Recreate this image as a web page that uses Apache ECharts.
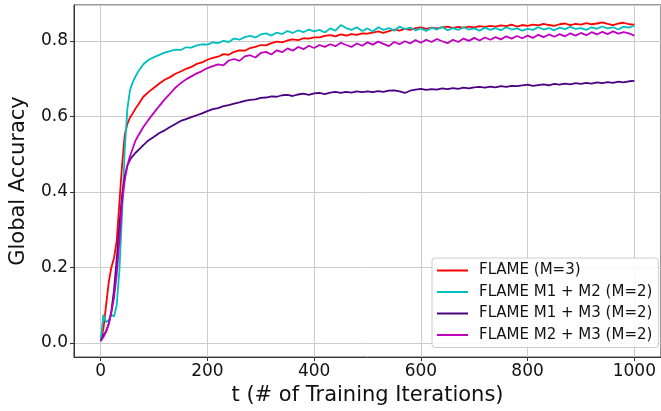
<!DOCTYPE html>
<html>
<head>
<meta charset="utf-8">
<script src="https://cdn.jsdelivr.net/npm/echarts@6/dist/echarts.min.js"></script>
<style>
  html, body { margin: 0; padding: 0; background: #fff; }
  #chart { width: 661px; height: 411px; }
</style>
</head>
<body>
<div id="chart"></div>
<script>
// training iterations (denser at the start where curves rise fast)
var iters = [0, 5, 10, 15, 20, 25, 30, 35, 40, 45, 50, 55, 60, 65, 70,
    80, 90, 100, 110, 120, 130, 140, 150, 160, 170, 180, 190, 200,
    210, 220, 230, 240, 250, 260, 270, 280, 290, 300,
    310, 320, 330, 340, 350, 360, 370, 380, 390, 400,
    410, 420, 430, 440, 450, 460, 470, 480, 490, 500,
    510, 520, 530, 540, 550, 560, 570, 580, 590, 600,
    610, 620, 630, 640, 650, 660, 670, 680, 690, 700,
    710, 720, 730, 740, 750, 760, 770, 780, 790, 800,
    810, 820, 830, 840, 850, 860, 870, 880, 890, 900,
    910, 920, 930, 940, 950, 960, 970, 980, 990, 1000];

var seriesNames = ['FLAME (M=3)', 'FLAME M1 + M2 (M=2)', 'FLAME M1 + M3 (M=2)', 'FLAME M2 + M3 (M=2)'];

var flameM3 = [0.005, 0.036, 0.098, 0.16, 0.20, 0.225, 0.27, 0.37, 0.47, 0.55, 0.58, 0.597, 0.608, 0.62, 0.63,
    0.652, 0.665, 0.676, 0.687, 0.697, 0.704, 0.713, 0.719, 0.726, 0.731, 0.739, 0.743, 0.750,
    0.755, 0.758, 0.765, 0.763, 0.771, 0.775, 0.774, 0.781, 0.784, 0.789,
    0.788, 0.794, 0.798, 0.796, 0.801, 0.804, 0.802, 0.807, 0.806, 0.809,
    0.809, 0.813, 0.815, 0.812, 0.817, 0.814, 0.818, 0.816, 0.820, 0.819,
    0.822, 0.825, 0.821, 0.826, 0.830, 0.827, 0.832, 0.829, 0.834, 0.836,
    0.832, 0.835, 0.833, 0.836, 0.838, 0.834, 0.837, 0.835, 0.838, 0.836,
    0.839, 0.837, 0.840, 0.838, 0.841, 0.839, 0.843, 0.838, 0.842, 0.840,
    0.843, 0.841, 0.845, 0.842, 0.840, 0.844, 0.846, 0.842, 0.845, 0.843,
    0.847, 0.844, 0.846, 0.849, 0.845, 0.842, 0.846, 0.848, 0.844, 0.843];

var flameM1M2 = [0.005, 0.075, 0.055, 0.06, 0.075, 0.07, 0.10, 0.19, 0.34, 0.51, 0.62, 0.67, 0.69, 0.705, 0.718,
    0.738, 0.750, 0.757, 0.763, 0.769, 0.773, 0.777, 0.776, 0.783, 0.782, 0.788, 0.791, 0.790,
    0.796, 0.794, 0.800, 0.797, 0.806, 0.803, 0.810, 0.813, 0.809, 0.817,
    0.820, 0.814, 0.822, 0.818, 0.826, 0.821, 0.828, 0.823, 0.830, 0.825,
    0.829, 0.822, 0.833, 0.827, 0.842, 0.834, 0.829, 0.836, 0.826, 0.833,
    0.825, 0.836, 0.829, 0.834, 0.827, 0.838, 0.831, 0.835, 0.828, 0.833,
    0.826, 0.835, 0.830, 0.837, 0.828, 0.834, 0.829, 0.836, 0.830, 0.833,
    0.827, 0.835, 0.829, 0.834, 0.828, 0.836, 0.830, 0.833, 0.827, 0.832,
    0.829, 0.836, 0.830, 0.834, 0.828, 0.835, 0.831, 0.837, 0.832, 0.834,
    0.829, 0.836, 0.832, 0.838, 0.833, 0.836, 0.830, 0.838, 0.835, 0.840];

var flameM1M3 = [0.005, 0.02, 0.03, 0.05, 0.085, 0.14, 0.22, 0.31, 0.39, 0.44, 0.47, 0.485, 0.495, 0.503, 0.51,
    0.524, 0.537, 0.546, 0.556, 0.563, 0.572, 0.580, 0.588, 0.593, 0.598, 0.603, 0.608, 0.614,
    0.619, 0.622, 0.627, 0.630, 0.634, 0.637, 0.641, 0.644, 0.645, 0.649,
    0.650, 0.653, 0.652, 0.656, 0.657, 0.654, 0.658, 0.660, 0.657, 0.661,
    0.662, 0.659, 0.663, 0.665, 0.662, 0.665, 0.663, 0.666, 0.664, 0.666,
    0.664, 0.667, 0.665, 0.668, 0.669, 0.666, 0.662, 0.668, 0.671, 0.673,
    0.670, 0.672, 0.671, 0.674, 0.672, 0.675, 0.673, 0.676, 0.674, 0.677,
    0.678, 0.676, 0.679, 0.677, 0.680, 0.678, 0.681, 0.680, 0.682, 0.684,
    0.681, 0.683, 0.685, 0.682, 0.686, 0.684, 0.687, 0.685, 0.688, 0.686,
    0.689, 0.687, 0.690, 0.688, 0.691, 0.689, 0.692, 0.690, 0.693, 0.694];

var flameM2M3 = [0.005, 0.015, 0.03, 0.05, 0.08, 0.12, 0.18, 0.27, 0.37, 0.43, 0.47, 0.495, 0.515, 0.535, 0.548,
    0.572, 0.592, 0.610, 0.628, 0.645, 0.660, 0.676, 0.688, 0.698, 0.706, 0.714, 0.720, 0.728,
    0.733, 0.738, 0.735, 0.748, 0.752, 0.747, 0.759, 0.762, 0.756, 0.768,
    0.771, 0.764, 0.775, 0.770, 0.780, 0.774, 0.784, 0.778, 0.787, 0.781,
    0.789, 0.784, 0.791, 0.786, 0.795, 0.789, 0.784, 0.793, 0.787, 0.796,
    0.790, 0.798, 0.792, 0.786, 0.797, 0.791, 0.799, 0.793, 0.802, 0.795,
    0.803, 0.797, 0.805, 0.799, 0.794, 0.803, 0.797, 0.806, 0.800, 0.808,
    0.801, 0.809, 0.803, 0.810, 0.804, 0.812, 0.806, 0.813, 0.807, 0.814,
    0.808, 0.816, 0.810, 0.817, 0.811, 0.818, 0.812, 0.820, 0.814, 0.821,
    0.815, 0.823, 0.817, 0.824, 0.818, 0.825, 0.819, 0.823, 0.820, 0.814];

var xTicks = [0, 200, 400, 600, 800, 1000];
var yTicks = [0.0, 0.2, 0.4, 0.6, 0.8];

var colors = ['#ff0000', '#00bfbf', '#4b0082', '#bf00bf'];
var allValues = [flameM3, flameM1M2, flameM1M3, flameM2M3];

var pairs = function(vals) {
    var out = [];
    for (var i = 0; i < iters.length; i++)
        out.push([iters[i], vals[i]]);
    return out;
};

var font = 'DejaVu Sans';
var myChart = echarts.init(document.getElementById('chart'), null, {renderer: 'canvas'});

var series = [];
for (var k = 0; k < seriesNames.length; k++) {
    series.push({
        name: seriesNames[k],
        type: 'line',
        data: pairs(allValues[k]),
        showSymbol: false,
        symbol: 'none',
        lineStyle: {color: colors[k], width: 1.8},
        itemStyle: {color: colors[k]}
    });
}

var option = {
    animation: false,
    backgroundColor: '#ffffff',
    grid: {
        left: 72, top: 5, right: -3, bottom: 53,
        show: true, borderColor: '#333333', borderWidth: 1
    },
    legend: {
        data: seriesNames,
        orient: 'vertical',
        left: 432, top: 258,
        padding: [5, 6, 5, 5],
        itemWidth: 31, itemHeight: 2,
        itemGap: 6.5,
        icon: 'rect',
        backgroundColor: 'rgba(255,255,255,0.85)',
        borderColor: '#cccccc', borderWidth: 1, borderRadius: 3,
        textStyle: {fontFamily: font, fontSize: 15, color: '#111', padding: [0, 0, 0, 6]}
    },
    xAxis: {
        type: 'value',
        min: -50, max: 1050,
        name: 't (# of Training Iterations)',
        nameLocation: 'middle',
        nameGap: 27,
        nameTextStyle: {fontFamily: font, fontSize: 21, color: '#111'},
        axisLine: {show: true, onZero: false, lineStyle: {color: '#333'}},
        axisTick: {show: true, inside: false, length: 4, lineStyle: {color: '#333'}},
        axisLabel: {
            fontFamily: font, fontSize: 17, color: '#111', margin: 6,
            showMinLabel: false, showMaxLabel: false,
            formatter: function(v) { return xTicks.indexOf(v) >= 0 ? String(v) : ''; }
        },
        splitLine: {show: true, lineStyle: {color: '#cccccc', width: 1}}
    },
    yAxis: {
        type: 'value',
        min: -0.0375, max: 0.895,
        name: 'Global Accuracy',
        nameLocation: 'middle',
        nameGap: 45,
        nameTextStyle: {fontFamily: font, fontSize: 21, color: '#111'},
        axisLine: {show: true, onZero: false, lineStyle: {color: '#333'}},
        axisTick: {show: true, inside: false, length: 4, lineStyle: {color: '#333'}},
        axisLabel: {
            fontFamily: font, fontSize: 17, color: '#111', margin: 6,
            showMinLabel: false, showMaxLabel: false,
            formatter: function(v) {
                for (var i = 0; i < yTicks.length; i++)
                    if (Math.abs(v - yTicks[i]) < 1e-6) return yTicks[i].toFixed(1);
                return '';
            }
        },
        splitLine: {show: true, lineStyle: {color: '#cccccc', width: 1}}
    },
    series: series
};

myChart.setOption(option);
</script>
</body>
</html>
